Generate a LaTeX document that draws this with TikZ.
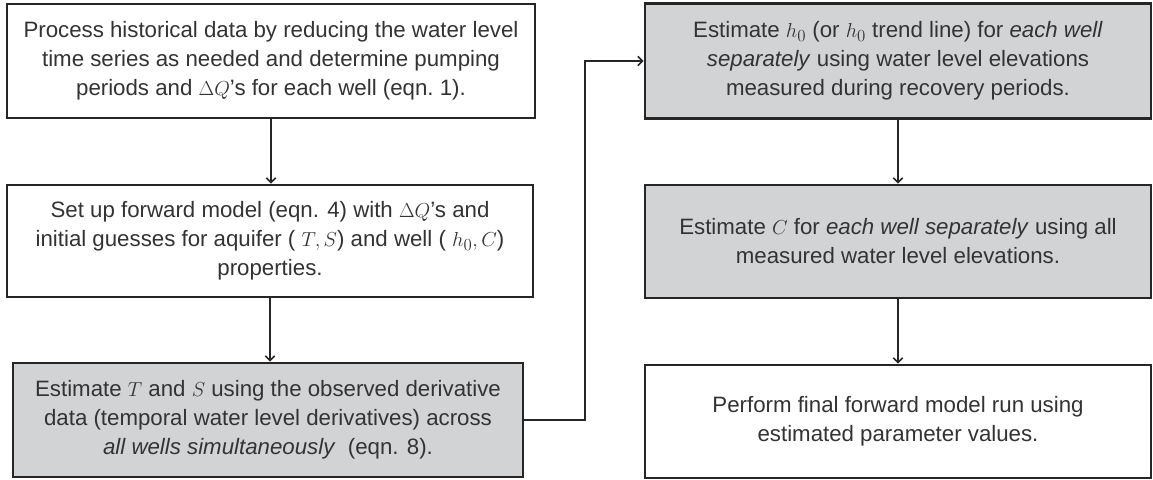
\documentclass[tikz,border=0pt]{standalone}
\usepackage{fontspec}
\setmainfont{Liberation Sans}
\usetikzlibrary{arrows.meta}
\definecolor{kastengrau}{RGB}{210,211,213}
\begin{document}
\begin{tikzpicture}[x=0.03cm,y=-0.03cm,
	kasten/.style={draw=black!85,line width=2.2pt,fill=white,inner sep=0pt,align=center,text=black!80,font=\fontsize{19}{24.75}\selectfont},
	kastengrau/.style={kasten,fill=kastengrau},
	pfeil/.style={line width=1.4pt,draw=black!85,-{Straight Barb[length=4pt,width=8pt,line width=1.4pt]}}]
	\useasboundingbox (0,0) rectangle (1153,480);
	% Kästen links
	\node [kasten,minimum width=15.84cm,minimum height=3.42cm] (daten) at (271,61) {Process historical data by reducing the water level\\ time series as needed and determine pumping\\ periods and $\Delta Q$'s for each well (eqn.~1).};
	\node [kasten,minimum width=15.78cm,minimum height=3.36cm] (modell) at (270,241) {Set up forward model (eqn. 4) with $\Delta Q$'s and\\ initial guesses for aquifer ( $T,S$) and well ( $h_0,C$)\\ properties.};
	\node [kastengrau,minimum width=15.3cm,minimum height=3.42cm] (TS) at (268,420) {Estimate $T$ and $S$ using the observed derivative\\ data (temporal water level derivatives) across\\ \textit{all wells simultaneously}\ \ (eqn. 8).};
	% Kästen rechts
	\node [kastengrau,minimum width=15.18cm,minimum height=3.45cm] (hnull) at (898,61) {Estimate $h_0$ (or $h_0$ trend line) for \textit{each well}\\ \textit{separately} using water level elevations\\ measured during recovery periods.};
	\node [kastengrau,minimum width=15.18cm,minimum height=3.39cm] (C) at (898,241.5) {Estimate $C$ for \textit{each well separately} using all\\ measured water level elevations.};
	\node [kasten,minimum width=15.18cm,minimum height=3.39cm] (lauf) at (898,421.5) {Perform final forward model run using\\ estimated parameter values.};
	% Pfeile
	\draw [pfeil] (daten.south) -- (daten.south |- modell.north);
	\draw [pfeil] (modell.south) -- (modell.south |- TS.north);
	\draw [pfeil] (TS.east) -- ++(61,0) |- (hnull.west);
	\draw [pfeil] (hnull.south) -- (C.north);
	\draw [pfeil] (C.south) -- (lauf.north);
\end{tikzpicture}
\end{document}
